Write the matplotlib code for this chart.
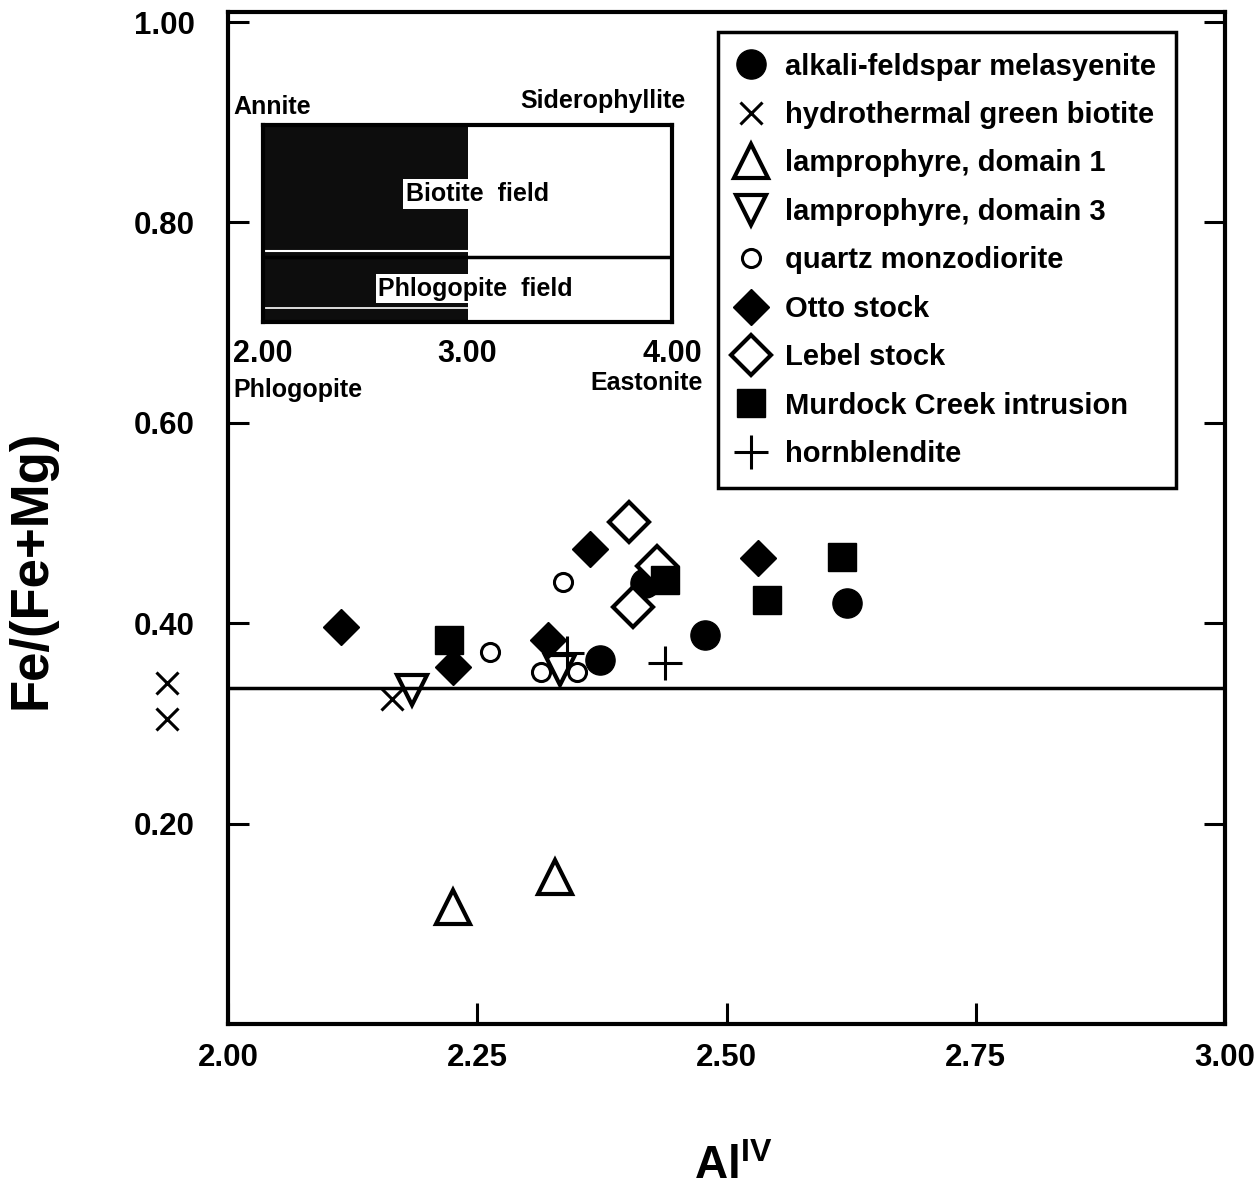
import matplotlib
matplotlib.use("Agg")
import matplotlib.pyplot as plt

plt.rcParams['font.family'] = ['Liberation Sans', 'DejaVu Sans']
plt.rcParams['font.weight'] = 'bold'
plt.rcParams['mathtext.fontset'] = 'custom'
plt.rcParams['mathtext.bf'] = 'Liberation Sans:bold'
plt.rcParams['mathtext.rm'] = 'Liberation Sans:bold'

# Al(IV) vs Fe/(Fe+Mg)
alkali_x = [2.373, 2.478, 2.621, 2.418]
alkali_y = [0.363, 0.388, 0.420, 0.440]
hydro_x = [1.939, 1.939, 2.164]
hydro_y = [0.340, 0.304, 0.324]
lamp1_x = [2.226, 2.328]
lamp1_y = [0.117, 0.147]
lamp3_x = [2.185, 2.333]
lamp3_y = [0.333, 0.353]
qmd_x = [2.336, 2.263, 2.314, 2.350]
qmd_y = [0.441, 0.371, 0.351, 0.351]
otto_x = [2.113, 2.226, 2.321, 2.363, 2.532]
otto_y = [0.396, 0.356, 0.383, 0.474, 0.465]
lebel_x = [2.402, 2.430, 2.406]
lebel_y = [0.501, 0.457, 0.416]
murdock_x = [2.222, 2.438, 2.541, 2.616]
murdock_y = [0.383, 0.443, 0.423, 0.466]
horn_x = [2.340, 2.438]
horn_y = [0.370, 0.360]

annite_line = 0.335
xticks = [2.00, 2.25, 2.50, 2.75, 3.00]
yticks = [0.20, 0.40, 0.60, 0.80, 1.00]

fig = plt.figure(figsize=(12.58, 11.94), dpi=100)
ax = fig.add_axes([228/1258, 1 - 1024/1194, 997/1258, 1012/1194])

ax.plot(alkali_x, alkali_y, 'o', color='black', ms=21, ls='none', label='alkali-feldspar melasyenite')
ax.plot(hydro_x, hydro_y, 'x', color='black', ms=16, mew=2.2, ls='none', clip_on=False,
        label='hydrothermal green biotite')
ax.plot(lamp1_x, lamp1_y, '^', mfc='white', mec='black', ms=25, mew=3, ls='none',
        label='lamprophyre, domain 1')
ax.plot(lamp3_x, lamp3_y, 'v', mfc='white', mec='black', ms=22, mew=3, ls='none',
        label='lamprophyre, domain 3')
ax.plot(qmd_x, qmd_y, 'o', mfc='white', mec='black', ms=13, mew=2.2, ls='none',
        label='quartz monzodiorite')
ax.plot(otto_x, otto_y, 'D', color='black', ms=18, ls='none', label='Otto stock')
ax.plot(lebel_x, lebel_y, 'D', mfc='white', mec='black', ms=20, mew=3, ls='none', label='Lebel stock')
ax.plot(murdock_x, murdock_y, 's', color='black', ms=20, ls='none', label='Murdock Creek intrusion')
ax.plot(horn_x, horn_y, '+', color='black', ms=24, mew=2.2, ls='none', label='hornblendite')

ax.axhline(annite_line, color='black', lw=2.5)

ax.set_xlim(2.0, 3.0)
ax.set_ylim(0.0, 1.01)
ax.set_xticks(xticks)
ax.set_xticklabels(['%.2f' % v for v in xticks])
ax.set_yticks(yticks)
ax.set_yticklabels(['%.2f' % v for v in yticks])
ax.tick_params(axis='y', direction='in', length=15, width=2.2, labelsize=22.5, pad=24, right=True)
ax.tick_params(axis='x', direction='in', length=15, width=2.2, labelsize=22.5, pad=14)
for s in ax.spines.values():
    s.set_linewidth(3)

ax.set_ylabel('Fe/(Fe+Mg)', fontsize=38, fontweight='bold')
ax.yaxis.set_label_coords(-0.172, 0.449)
ax.set_xlabel(r'Al$^{\mathbf{IV}}$', fontsize=33, fontweight='bold')
ax.xaxis.set_label_coords(0.507, -0.12)

leg = ax.legend(loc='upper left', bbox_to_anchor=(0.491, 0.980), fontsize=21, frameon=True,
                fancybox=False, edgecolor='black', framealpha=1, handlelength=0.9,
                handletextpad=0.7, labelspacing=0.7, borderpad=0.7, borderaxespad=0)
leg.get_frame().set_linewidth(2.5)

# inset: classification box
ins = fig.add_axes([263/1258, 1 - 322/1194, 409/1258, 197/1194])
ins.set_xlim(2.0, 4.0)
ins.set_ylim(0.0, 1.0)
ins.axvspan(2.0, 3.0, color='#0d0d0d', lw=0)
ins.axhline(0.36, xmin=0, xmax=0.5, color='white', lw=1.5)
ins.axhline(0.07, xmin=0, xmax=0.5, color='white', lw=1.2)
ins.axhline(0.33, color='black', lw=2.5)
for s in ins.spines.values():
    s.set_linewidth(3)
ins.set_yticks([])
ins.set_xticks([2.0, 3.0, 4.0])
ins.set_xticklabels(['2.00', '3.00', '4.00'])
ins.tick_params(axis='x', length=0, labelsize=22, pad=12)
ins.text(3.05, 0.65, 'Biotite  field', fontsize=18, fontweight='bold', ha='center', va='center',
         bbox=dict(facecolor='white', edgecolor='none', pad=2))
ins.text(3.04, 0.17, 'Phlogopite  field', fontsize=18, fontweight='bold', ha='center', va='center',
         bbox=dict(facecolor='white', edgecolor='none', pad=2))
ins.text(-0.073, 1.09, 'Annite', transform=ins.transAxes, fontsize=18, fontweight='bold',
         ha='left', va='center')
ins.text(1.032, 1.12, 'Siderophyllite', transform=ins.transAxes, fontsize=18, fontweight='bold',
         ha='right', va='center')
ins.text(-0.073, -0.345, 'Phlogopite', transform=ins.transAxes, fontsize=18, fontweight='bold',
         ha='left', va='center')
ins.text(1.076, -0.31, 'Eastonite', transform=ins.transAxes, fontsize=18, fontweight='bold',
         ha='right', va='center')

fig.savefig('out.png', dpi=100)
